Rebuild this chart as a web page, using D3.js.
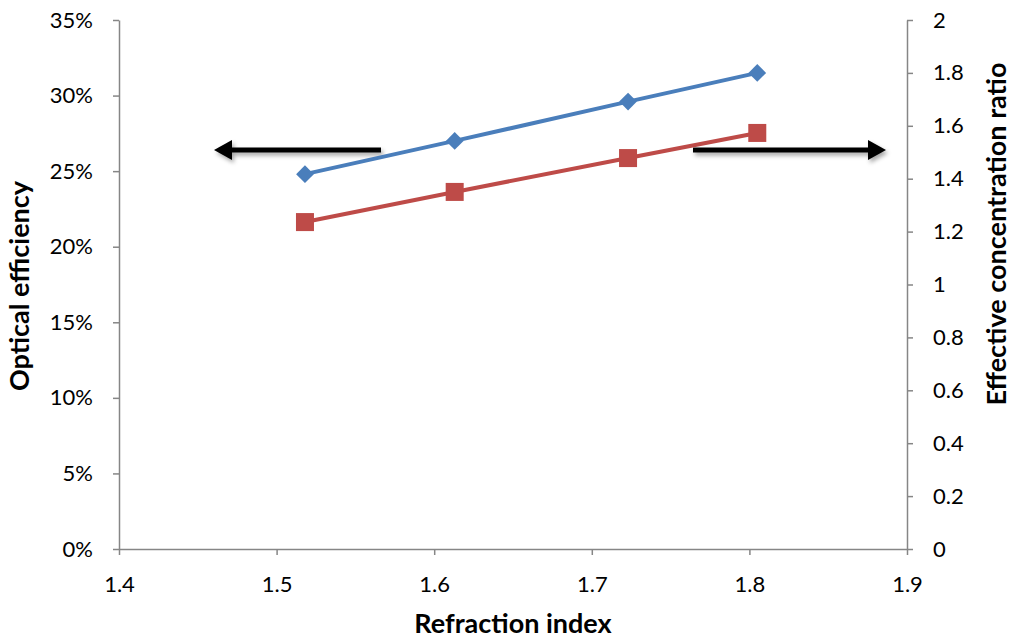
<!DOCTYPE html>
<html><head><meta charset="utf-8">
<script src="https://cdn.jsdelivr.net/npm/d3@7"></script>
<style>body{margin:0;background:#fff}text{font-family:Lato,"Open Sans",sans-serif}</style>
</head><body><svg id="c" width="1012" height="638"></svg>
<script>
const refractionIndex = [1.518, 1.613, 1.723, 1.805];
const opticalEfficiency = [0.248, 0.270, 0.296, 0.315];
const concentrationRatio = [1.236, 1.35, 1.478, 1.573];
const xTicks = [1.4, 1.5, 1.6, 1.7, 1.8, 1.9];
const leftTicks = [0, 0.05, 0.10, 0.15, 0.20, 0.25, 0.30, 0.35];
const rightTicks = [0, 0.2, 0.4, 0.6, 0.8, 1, 1.2, 1.4, 1.6, 1.8, 2];

const svg = d3.select("#c");
const L = 119, R = 907, T = 20, B = 549;
const x = d3.scaleLinear().domain([1.4, 1.9]).range([L, R]);
const yl = d3.scaleLinear().domain([0, 0.35]).range([B, T]);
const yr = d3.scaleLinear().domain([0, 2]).range([B, T]);
const axisColor = "#868686";

function styleAxis(g){
  g.select(".domain").attr("stroke", axisColor).attr("stroke-width", 1.5);
  g.selectAll(".tick line").attr("stroke", axisColor).attr("stroke-width", 1.5);
  g.selectAll(".tick text").attr("fill", "#000").style("font-size", "22px").style("font-family", "Lato, 'Open Sans', sans-serif");
}

svg.append("g").attr("transform", `translate(0,${B})`)
  .call(d3.axisBottom(x).tickValues(xTicks).tickFormat(d3.format(".1f")).tickSize(6).tickSizeOuter(0).tickPadding(21))
  .call(styleAxis);
svg.append("g").attr("transform", `translate(${L},0)`)
  .call(d3.axisLeft(yl).tickValues(leftTicks).tickFormat(d => Math.round(d*100) + "%").tickSize(6).tickSizeOuter(0).tickPadding(20))
  .call(styleAxis);
svg.append("g").attr("transform", `translate(${R},0)`)
  .call(d3.axisRight(yr).tickValues(rightTicks).tickFormat(d => d3.format("")(+d.toFixed(1))).tickSize(6).tickSizeOuter(0).tickPadding(20))
  .call(styleAxis);

// axis titles
svg.append("text").attr("x", 513).attr("y", 633).attr("text-anchor", "middle")
  .style("font-size", "27px").style("font-weight", "bold").text("Refraction index");
svg.append("text").attr("transform", `translate(29,286) rotate(-90)`).attr("text-anchor", "middle")
  .style("font-size", "27px").style("font-weight", "bold").text("Optical efficiency");
svg.append("text").attr("transform", `translate(1006,234) rotate(-90)`).attr("text-anchor", "middle")
  .style("font-size", "27px").style("font-weight", "bold").text("Effective concentration ratio");

// arrows
const defs = svg.append("defs");
const f = defs.append("filter").attr("id", "sh").attr("x", "-20%").attr("y", "-100%").attr("width", "140%").attr("height", "400%");
f.append("feDropShadow").attr("dx", 2).attr("dy", 3).attr("stdDeviation", 2).attr("flood-color", "#000").attr("flood-opacity", 0.35);

function arrow(x1, x2, y){
  const dir = Math.sign(x2 - x1);
  const g = svg.append("g").attr("filter", "url(#sh)");
  g.append("line").attr("x1", x1).attr("x2", x2 - dir*14).attr("y1", y).attr("y2", y)
    .attr("stroke", "#000").attr("stroke-width", 5);
  g.append("path").attr("d", `M${x2},${y} L${x2 - dir*18},${y-10} L${x2 - dir*18},${y+10} Z`).attr("fill", "#000");
}
arrow(381, 214, 150);
arrow(693, 886, 150);

// series
const blue = "#4a7ebb", red = "#be4b48";
const lineL = d3.line().x((d,i) => x(refractionIndex[i])).y(d => yl(d));
const lineR = d3.line().x((d,i) => x(refractionIndex[i])).y(d => yr(d));
svg.append("path").datum(opticalEfficiency).attr("d", lineL).attr("fill", "none").attr("stroke", blue).attr("stroke-width", 4);
svg.append("path").datum(concentrationRatio).attr("d", lineR).attr("fill", "none").attr("stroke", red).attr("stroke-width", 4);

svg.selectAll(".dm").data(opticalEfficiency).enter().append("path")
  .attr("d", d3.symbol().type(d3.symbolDiamond2).size(200))
  .attr("transform", (d,i) => `translate(${x(refractionIndex[i])},${yl(d)})`)
  .attr("fill", blue);
svg.selectAll(".sq").data(concentrationRatio).enter().append("rect")
  .attr("x", (d,i) => x(refractionIndex[i]) - 9).attr("y", d => yr(d) - 9)
  .attr("width", 18).attr("height", 18).attr("fill", red);
</script></body></html>
